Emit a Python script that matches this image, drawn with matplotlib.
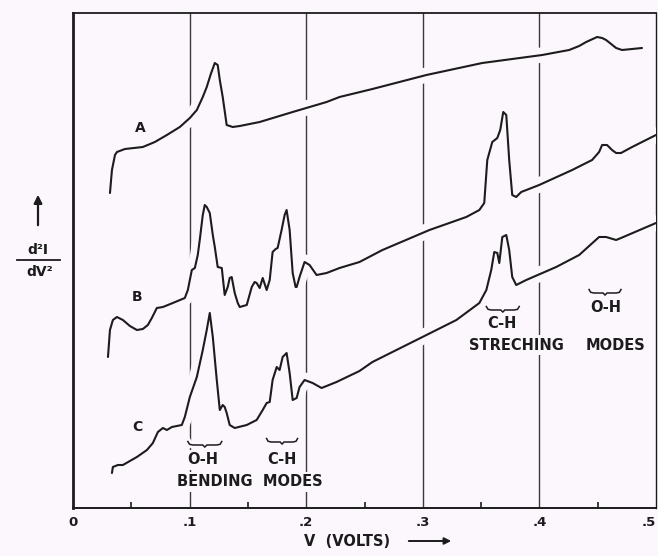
import matplotlib
matplotlib.use('Agg')
import matplotlib.pyplot as plt
import matplotlib.patheffects as pe

BG = '#fcf7fc'
INK = '#1c1c1c'

# ---- data (bias voltage in V, d2I/dV2 in arbitrary units) ----
a_v = [0.0317, 0.0334, 0.0360, 0.0377, 0.0445, 0.0599, 0.0702, 0.0805, 0.0916, 0.1002,
       0.1062, 0.1113, 0.1147, 0.1182, 0.1216, 0.1241, 0.1259, 0.1284, 0.1318, 0.1370,
       0.1430, 0.1601, 0.1884, 0.2175, 0.2286, 0.2568, 0.3031, 0.3510, 0.4024, 0.4255,
       0.4341, 0.4401, 0.4495, 0.4538, 0.4572, 0.4615, 0.4658, 0.4709, 0.4880]
a_y = [31.5, 33.8, 35.3, 35.6, 35.9, 36.1, 36.6, 37.3, 38.1, 39.0,
       39.8, 41.1, 42.1, 43.4, 44.5, 44.3, 42.8, 41.1, 38.3, 38.1,
       38.2, 38.6, 39.6, 40.6, 41.1, 41.9, 43.3, 44.5, 45.3, 45.8,
       46.2, 46.6, 47.1, 47.0, 46.8, 46.4, 46.0, 45.8, 46.0]

b_v = [0.0300, 0.0317, 0.0342, 0.0377, 0.0428, 0.0488, 0.0548, 0.0599, 0.0642, 0.0676,
       0.0719, 0.0771, 0.0856, 0.0959, 0.0985, 0.1002, 0.1019, 0.1045, 0.1070, 0.1087,
       0.1113, 0.1130, 0.1147, 0.1173, 0.1199, 0.1216, 0.1241, 0.1276, 0.1301, 0.1327,
       0.1344, 0.1361, 0.1387, 0.1413, 0.1430, 0.1490, 0.1533, 0.1558, 0.1575, 0.1601,
       0.1627, 0.1661, 0.1687, 0.1712, 0.1738, 0.1755, 0.1789, 0.1815, 0.1832, 0.1858,
       0.1884, 0.1909, 0.1918, 0.1943, 0.1986, 0.2029, 0.2089, 0.2175, 0.2286, 0.2457,
       0.2654, 0.3057, 0.3373, 0.3485, 0.3527, 0.3553, 0.3596, 0.3639, 0.3664, 0.3690,
       0.3716, 0.3741, 0.3767, 0.3801, 0.3844, 0.3998, 0.4281, 0.4452, 0.4512, 0.4538,
       0.4580, 0.4623, 0.4658, 0.4700, 0.4795, 0.5000]
b_y = [15.1, 17.8, 18.8, 19.1, 18.8, 18.2, 17.8, 17.9, 18.3, 19.0,
       20.0, 20.1, 20.5, 21.0, 21.8, 22.8, 23.8, 24.0, 25.3, 26.8,
       29.3, 30.3, 30.1, 29.5, 27.3, 26.1, 24.1, 24.0, 21.3, 22.1,
       23.0, 23.1, 21.5, 20.5, 20.1, 20.3, 22.1, 22.6, 22.5, 22.0,
       23.0, 21.8, 22.8, 25.6, 25.9, 26.0, 27.8, 29.3, 29.8, 27.8,
       23.5, 22.1, 22.1, 23.1, 24.6, 24.3, 23.3, 23.5, 24.0, 24.6,
       25.8, 27.8, 29.1, 29.8, 30.5, 34.8, 36.6, 37.0, 37.8, 39.6,
       39.3, 34.8, 31.3, 31.1, 31.6, 32.3, 33.8, 34.8, 35.6, 36.3,
       36.3, 35.8, 35.5, 35.5, 36.1, 37.3]

c_v = [0.0334, 0.0342, 0.0385, 0.0428, 0.0488, 0.0548, 0.0634, 0.0685, 0.0728, 0.0771,
       0.0805, 0.0848, 0.0933, 0.0959, 0.1002, 0.1062, 0.1113, 0.1147, 0.1173, 0.1199,
       0.1233, 0.1259, 0.1284, 0.1301, 0.1318, 0.1344, 0.1387, 0.1490, 0.1575, 0.1627,
       0.1661, 0.1687, 0.1712, 0.1747, 0.1772, 0.1798, 0.1832, 0.1858, 0.1884, 0.1918,
       0.1943, 0.1986, 0.2055, 0.2132, 0.2260, 0.2457, 0.2568, 0.2997, 0.3288, 0.3485,
       0.3545, 0.3587, 0.3613, 0.3639, 0.3656, 0.3682, 0.3716, 0.3741, 0.3767, 0.3801,
       0.3887, 0.4144, 0.4341, 0.4512, 0.4572, 0.4658, 0.4700, 0.5000]
c_y = [3.5, 4.1, 4.3, 4.3, 4.7, 5.1, 5.8, 6.5, 7.6, 8.0,
       7.8, 8.1, 8.3, 9.1, 11.1, 13.1, 15.8, 17.8, 19.5, 17.1,
       12.8, 9.8, 10.3, 10.1, 9.5, 8.3, 8.0, 8.3, 8.8, 9.8,
       10.5, 10.6, 12.8, 14.1, 13.8, 15.1, 15.5, 13.5, 10.8, 11.0,
       12.1, 12.8, 12.5, 12.0, 12.6, 13.7, 14.6, 17.1, 18.8, 20.5,
       21.8, 23.8, 25.6, 25.5, 24.5, 27.1, 27.3, 25.8, 23.1, 22.3,
       22.8, 24.1, 25.3, 27.1, 27.1, 26.8, 27.0, 28.5]

curve_names = ['A', 'B', 'C']
tick_vals = [0, 0.1, 0.2, 0.3, 0.4, 0.5]
tick_labels = ['0', '.1', '.2', '.3', '.4', '.5']
minor_vals = [0.05, 0.15, 0.25, 0.35, 0.45]
grid_vals = [0.1, 0.2, 0.3, 0.4]

# ---- figure ----
W, H = 658, 556
fig = plt.figure(figsize=(W / 100, H / 100), dpi=100, facecolor=BG)
ax = fig.add_axes([73 / W, 1 - 508 / H, 583 / W, 495 / H])
ax.set_facecolor(BG)
ax.set_xlim(0, 0.5)
ax.set_ylim(0, 49.5)

for v in grid_vals:
    ax.axvline(v, color='#3a3a3a', lw=1.0, zorder=1)

halo = [pe.Stroke(linewidth=11, foreground=BG), pe.Normal()]
for xs, ys in [(a_v, a_y), (b_v, b_y), (c_v, c_y)]:
    ax.plot(xs, ys, color=INK, lw=1.5, solid_joinstyle='round', solid_capstyle='round',
            path_effects=halo, zorder=3)

font = dict(family='DejaVu Sans', weight='bold', color=INK)
tb = dict(facecolor=BG, edgecolor='none', pad=1.5)
FS = 10.5

# curve letters
for name, (lx, ly) in zip(curve_names, [(0.0574, 38.0), (0.0548, 21.1), (0.0548, 8.1)]):
    ax.text(lx, ly, name, fontsize=10, ha='center', va='center', zorder=4, **font)

def brace(x0, x1, y, h=0.35):
    w = x1 - x0
    xm = (x0 + x1) / 2
    xs = [x0, x0 + 0.05 * w, x0 + 0.15 * w, xm - 0.06 * w, xm, xm + 0.06 * w, x1 - 0.15 * w, x1 - 0.05 * w, x1]
    ys = [y + h, y + 0.2 * h, y, y, y - 0.6 * h, y, y, y + 0.2 * h, y + h]
    ax.plot(xs, ys, color=INK, lw=1.1, zorder=4,
            path_effects=[pe.Stroke(linewidth=5, foreground=BG), pe.Normal()])

ann = [
    (0.1113, 4.8, 'O-H'), (0.1515, 2.6, 'BENDING  MODES'), (0.1790, 4.8, 'C-H'),
    (0.3680, 18.5, 'C-H'), (0.3800, 16.3, 'STRECHING'), (0.4650, 16.3, 'MODES'),
    (0.4570, 20.1, 'O-H'),
]
for x, y, s in ann:
    ax.text(x, y, s, fontsize=FS, ha='center', va='center', zorder=4, bbox=tb, **font)

brace(0.0985, 0.1276, 6.3)
brace(0.1660, 0.1926, 6.6)
brace(0.3545, 0.3827, 19.8)
brace(0.4426, 0.4700, 21.5)

# axes styling
for side in ['left', 'right', 'top', 'bottom']:
    ax.spines[side].set_color(INK)
ax.spines['left'].set_linewidth(2.0)
ax.spines['bottom'].set_linewidth(1.4)
ax.spines['top'].set_linewidth(1.3)
ax.spines['right'].set_linewidth(1.0)
ax.set_yticks([])
ax.set_xticks(tick_vals)
ax.set_xticklabels(tick_labels, fontsize=9.5, fontweight='bold', color=INK)
ax.get_xticklabels()[-1].set_horizontalalignment('right')
ax.set_xticks(minor_vals, minor=True)
ax.tick_params(axis='x', which='major', length=0, pad=6)
ax.tick_params(axis='x', which='minor', direction='in', length=4, width=1.2, color=INK)

# x label with arrow
fig.text(347 / W, 1 - 541 / H, 'V  (VOLTS)', fontsize=FS, ha='center', va='center', **font)
fig.add_artist(matplotlib.patches.FancyArrowPatch(
    (406 / W, 1 - 541 / H), (454 / W, 1 - 541 / H), transform=fig.transFigure,
    arrowstyle='-|>', mutation_scale=10, color=INK, lw=1.4))

# y label: arrow + d2I/dV2
fig.add_artist(matplotlib.patches.FancyArrowPatch(
    (38 / W, 1 - 228 / H), (38 / W, 1 - 192 / H), transform=fig.transFigure,
    arrowstyle='-|>', mutation_scale=12, color=INK, lw=1.6))
fig.text(38 / W, 1 - 250 / H, 'd²I', fontsize=10, ha='center', va='center', **font)
fig.add_artist(matplotlib.lines.Line2D([17 / W, 60 / W], [1 - 260 / H, 1 - 260 / H],
                                       transform=fig.transFigure, color=INK, lw=1.3))
fig.text(40 / W, 1 - 272 / H, 'dV²', fontsize=10, ha='center', va='center', **font)

fig.savefig('out.png', dpi=100, facecolor=BG)
